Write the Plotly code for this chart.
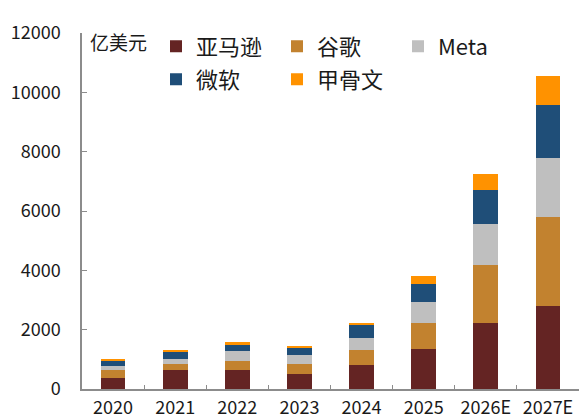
import plotly.graph_objects as go

years = ["2020", "2021", "2022", "2023", "2024", "2025", "2026E", "2027E"]
amazon = [370, 628, 628, 494, 817, 1337, 2211, 2796]
google = [269, 212, 302, 336, 504, 874, 1972, 3011]
meta = [124, 178, 336, 312, 393, 719, 1388, 1972]
microsoft = [202, 249, 245, 245, 427, 615, 1122, 1804]
oracle = [54, 54, 57, 57, 77, 259, 571, 961]

series = [
    ("亚马逊", amazon, "#642423", "legend"),
    ("谷歌", google, "#C2822F", "legend"),
    ("Meta", meta, "#BFBFBF", "legend"),
    ("微软", microsoft, "#1F4E78", "legend2"),
    ("甲骨文", oracle, "#FF9200", "legend2"),
]

FONT = "Noto Sans CJK SC"
fig = go.Figure()
for name, vals, color, lg in series:
    fig.add_trace(go.Bar(x=years, y=vals, name=name, marker=dict(color=color, line=dict(width=0)),
                         legend=lg))

W, H = 587, 419
ml, mr, mt, mb = 74, 16, 24.5, 37.5
pw, ph = W - ml - mr, H - mt - mb

def px2paper_x(px):
    return (px - ml) / pw

def px2paper_y(py):
    return (H - mb - py) / ph

legend_common = dict(orientation="h", xanchor="left", yanchor="middle",
                     font=dict(family=FONT, size=22, color="#1a1a1a"),
                     bgcolor="rgba(0,0,0,0)", entrywidth=76, entrywidthmode="pixels",
                     itemwidth=30, traceorder="normal", tracegroupgap=0)

fig.update_layout(
    width=W, height=H,
    margin=dict(l=ml, r=mr, t=mt, b=mb, autoexpand=False),
    barmode="stack", bargap=0.6,
    plot_bgcolor="white", paper_bgcolor="white",
    font=dict(family=FONT, size=18, color="#1a1a1a"),
    legend=dict(x=px2paper_x(148), y=px2paper_y(38), **legend_common),
    legend2=dict(x=px2paper_x(148), y=px2paper_y(71), **legend_common),
    xaxis=dict(showline=True, linecolor="#8c8c8c", linewidth=1.5, automargin=False,
               ticks="inside", ticklen=4, tickcolor="#8c8c8c", tickson="boundaries",
               ticklabelstandoff=2,
               tickfont=dict(family=FONT, size=18, color="#1a1a1a")),
    yaxis=dict(range=[0, 12000], dtick=2000, tickformat="d", showline=True, linecolor="#8c8c8c",
               linewidth=1.5, ticks="inside", ticklen=5, tickcolor="#8c8c8c", showgrid=False,
               zeroline=False, ticklabelstandoff=16, automargin=False,
               tickfont=dict(family=FONT, size=18, color="#1a1a1a")),
    annotations=[dict(text="亿美元", xref="paper", yref="paper", x=px2paper_x(80), y=px2paper_y(33),
                      xanchor="left", yanchor="middle", showarrow=False,
                      font=dict(family=FONT, size=19, color="#1a1a1a"))],
)

fig.write_html("out.html")
